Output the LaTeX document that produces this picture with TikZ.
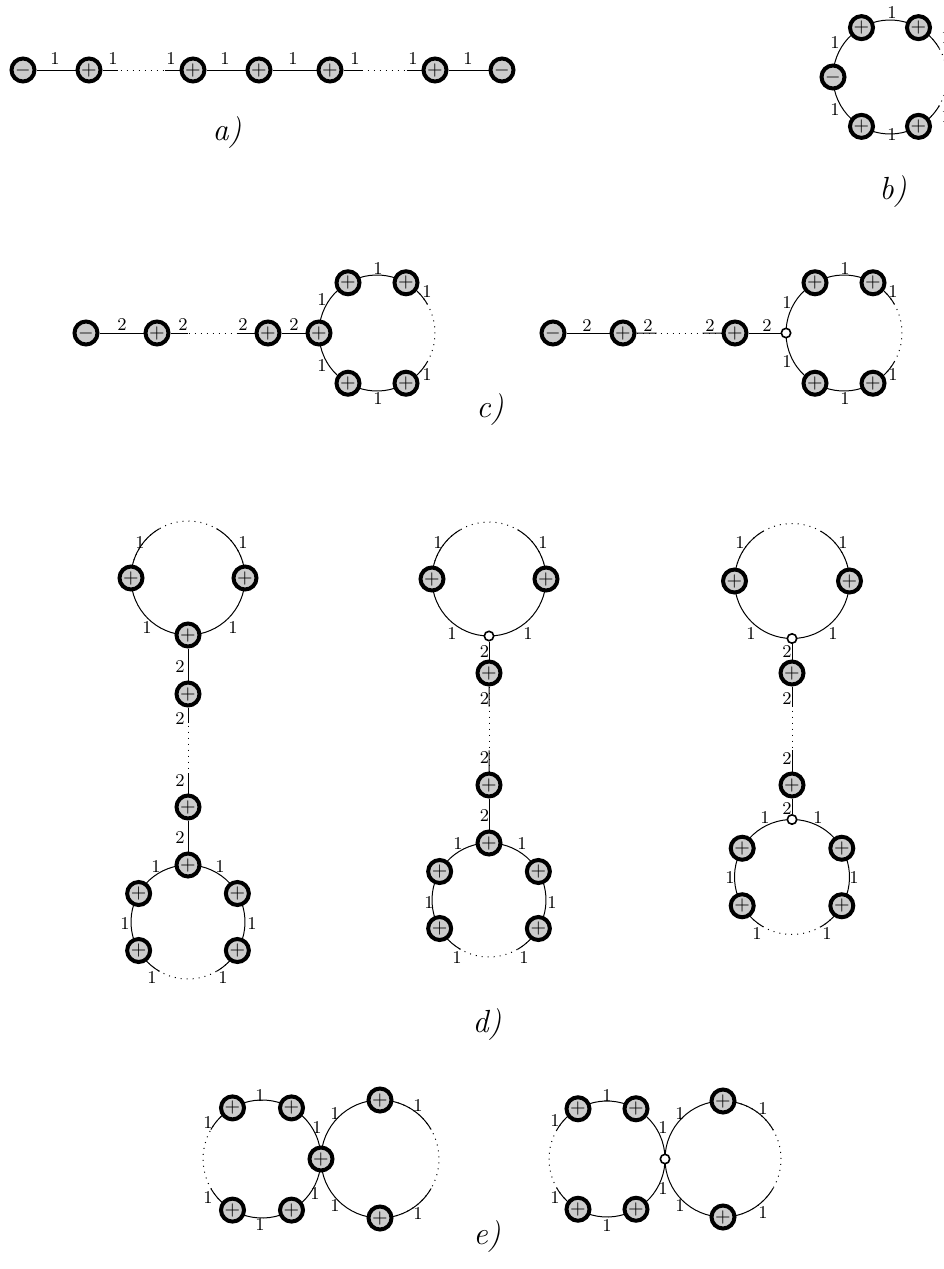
\documentclass[tikz,border=0pt]{standalone}
\usetikzlibrary{calc, backgrounds}

\begin{document}
\begin{tikzpicture}[
    x=0.5pt, y=-0.5pt,
    charge/.style={circle, draw=black, line width=2pt, fill=gray!40, minimum size=11.5pt, inner sep=0pt, font=\normalsize},
    hole/.style={circle, draw=black, line width=0.8pt, fill=white, minimum size=4.7pt, inner sep=0pt},
    wt/.style={font=\small, inner sep=0pt},
    caption/.style={font=\fontsize{16}{19}\selectfont\itshape, inner sep=0pt},
    bond/.style={line width=0.5pt},
    gap/.style={line width=0.5pt, dash pattern=on 0.5pt off 2.5pt}
]
\useasboundingbox (0,0) rectangle (943,1269);
\clip (0,0) rectangle (943,1269);

% a) open chain
\node[charge] (a1) at (23,70) {$-$};
\node[charge] (a2) at (89,70) {$+$};
\node[charge] (a3) at (193,70) {$+$};
\node[charge] (a4) at (259,70) {$+$};
\node[charge] (a5) at (330,70) {$+$};
\node[charge] (a6) at (435,70) {$+$};
\node[charge] (a7) at (502,70) {$-$};
\foreach \x [count=\i] in {55,113,171,225,293,355,413,468}
    \node[wt] (wa\i) at (\x,59) {1};
\node[caption] (capa) at (227,133) {a)};

% b) ring with one minus
\coordinate (bc) at (890,77);
\node[charge] (b1) at ($(bc)+(180:57)$) {$-$};
\node[charge] (b2) at ($(bc)+(240:57)$) {$+$};
\node[charge] (b3) at ($(bc)+(300:57)$) {$+$};
\node[charge] (b4) at ($(bc)+(60:57)$) {$+$};
\node[charge] (b5) at ($(bc)+(120:57)$) {$+$};
\foreach \x/\y [count=\i] in {892/13, 835/43, 835/110, 892/135, 946/38, 946/117}
    \node[wt] (wb\i) at (\x,\y) {1};
\node[caption] (capb) at (893,192) {b)};

% c) chain ending on a ring
\node[charge] (c1) at (86,333) {$-$};
\node[charge] (c2) at (157,333) {$+$};
\node[charge] (c3) at (268,333) {$+$};
\coordinate (cr) at (377,333);
\node[charge] (c4) at ($(cr)+(180:58)$) {$+$};
\node[charge] (c5) at ($(cr)+(240:58)$) {$+$};
\node[charge] (c6) at ($(cr)+(300:58)$) {$+$};
\node[charge] (c7) at ($(cr)+(60:58)$) {$+$};
\node[charge] (c8) at ($(cr)+(120:58)$) {$+$};
\foreach \x [count=\i] in {122,183,243,294}
    \node[wt] (wc\i) at (\x,325) {2};
\foreach \x/\y [count=\i] in {378/269, 427/292, 322/300, 322/366, 378/399, 427/375}
    \node[wt] (wr\i) at (\x,\y) {1};

\node[charge] (c9) at (553,333) {$-$};
\node[charge] (c10) at (623,333) {$+$};
\node[charge] (c11) at (735,333) {$+$};
\coordinate (cs) at (844,333);
\node[hole] (c12) at ($(cs)+(180:58)$) {};
\node[charge] (c13) at ($(cs)+(240:58)$) {$+$};
\node[charge] (c14) at ($(cs)+(300:58)$) {$+$};
\node[charge] (c15) at ($(cs)+(60:58)$) {$+$};
\node[charge] (c16) at ($(cs)+(120:58)$) {$+$};
\foreach \x [count=\i] in {587,648,710,767}
    \node[wt] (wcc\i) at (\x,326) {2};
\foreach \x/\y [count=\i] in {845/269, 893/292, 787/303, 787/362, 845/399, 893/375}
    \node[wt] (wrr\i) at (\x,\y) {1};
\node[caption] (capc) at (490,410) {c)};

% d) two rings joined by a chain
\coordinate (dt1) at (188,578);
\node[charge] (d1) at ($(dt1)+(180:57)$) {$+$};
\node[charge] (d2) at ($(dt1)+(0:57)$) {$+$};
\node[charge] (d3) at ($(dt1)+(90:57)$) {$+$};
\node[charge] (d4) at (188,694) {$+$};
\node[charge] (d5) at (188,807) {$+$};
\coordinate (db1) at (188,922);
\node[charge] (d6) at ($(db1)+(270:57)$) {$+$};
\node[charge] (d7) at ($(db1)+(210:57)$) {$+$};
\node[charge] (d8) at ($(db1)+(330:57)$) {$+$};
\node[charge] (d9) at ($(db1)+(150:57)$) {$+$};
\node[charge] (d10) at ($(db1)+(30:57)$) {$+$};
\foreach \x/\y [count=\i] in {140/542, 243/542, 147/627, 233/627, 156/866, 220/866, 125/923, 252/923, 152/977, 223/977}
    \node[wt] (wd\i) at (\x,\y) {1};
\foreach \y [count=\i] in {666,718,780,837}
    \node[wt] (ws\i) at (180,\y) {2};

\coordinate (dt2) at (489,579);
\node[charge] (d11) at ($(dt2)+(180:57)$) {$+$};
\node[charge] (d12) at ($(dt2)+(0:57)$) {$+$};
\node[hole] (d13) at ($(dt2)+(90:57)$) {};
\node[charge] (d14) at (489,673) {$+$};
\node[charge] (d15) at (489,785) {$+$};
\coordinate (db2) at (489,900);
\node[charge] (d16) at ($(db2)+(270:57)$) {$+$};
\node[charge] (d17) at ($(db2)+(210:57)$) {$+$};
\node[charge] (d18) at ($(db2)+(330:57)$) {$+$};
\node[charge] (d19) at ($(db2)+(150:57)$) {$+$};
\node[charge] (d20) at ($(db2)+(30:57)$) {$+$};
\foreach \x/\y [count=\i] in {438/542, 543/542, 452/633, 528/633, 458/843, 522/843, 429/902, 552/902, 457/957, 524/957}
    \node[wt] (wdd\i) at (\x,\y) {1};
\foreach \y [count=\i] in {651,698,757,815}
    \node[wt] (wss\i) at (484.5,\y) {2};

\coordinate (dt3) at (792,581);
\node[charge] (d21) at ($(dt3)+(180:57.5)$) {$+$};
\node[charge] (d22) at ($(dt3)+(0:57.5)$) {$+$};
\node[hole] (d23) at ($(dt3)+(90:57.5)$) {};
\node[charge] (d24) at (792,673) {$+$};
\node[charge] (d25) at (792,785) {$+$};
\coordinate (db3) at (792,877);
\node[hole] (d26) at ($(db3)+(270:57.5)$) {};
\node[charge] (d27) at ($(db3)+(210:57.5)$) {$+$};
\node[charge] (d28) at ($(db3)+(330:57.5)$) {$+$};
\node[charge] (d29) at ($(db3)+(150:57.5)$) {$+$};
\node[charge] (d30) at ($(db3)+(30:57.5)$) {$+$};
\foreach \x/\y [count=\i] in {740/542, 843/542, 751/633, 833/633, 765/817, 818/817, 730/877, 854/877, 757/933, 827/933}
    \node[wt] (wddd\i) at (\x,\y) {1};
\foreach \y [count=\i] in {651,698,758,808}
    \node[wt] (wsss\i) at (787,\y) {2};
\node[caption] (capd) at (487,1025) {d)};

% e) two rings sharing a site
\coordinate (el) at (262,1159);
\node[charge] (e1) at ($(el)+(240:59)$) {$+$};
\node[charge] (e2) at ($(el)+(300:59)$) {$+$};
\node[charge] (e3) at ($(el)+(0:59)$) {$+$};
\node[charge] (e4) at ($(el)+(60:59)$) {$+$};
\node[charge] (e5) at ($(el)+(120:59)$) {$+$};
\coordinate (er) at (380,1159);
\node[charge] (e6) at ($(er)+(270:59)$) {$+$};
\node[charge] (e7) at ($(er)+(90:59)$) {$+$};
\foreach \x/\y [count=\i] in {260/1095, 208/1122, 317/1127, 335/1113, 418/1105, 208/1197, 315/1193, 335/1205, 260/1224, 418/1213}
    \node[wt] (we\i) at (\x,\y) {1};

\coordinate (em) at (607,1159);
\node[charge] (e8) at ($(em)+(240:58)$) {$+$};
\node[charge] (e9) at ($(em)+(300:58)$) {$+$};
\node[hole] (e10) at ($(em)+(0:58)$) {};
\node[charge] (e11) at ($(em)+(60:58)$) {$+$};
\node[charge] (e12) at ($(em)+(120:58)$) {$+$};
\coordinate (en) at (723,1159);
\node[charge] (e13) at ($(en)+(270:58)$) {$+$};
\node[charge] (e14) at ($(en)+(90:58)$) {$+$};
\foreach \x/\y [count=\i] in {607/1095, 555/1120, 663/1127, 680/1113, 763/1108, 555/1197, 663/1188, 680/1205, 607/1225, 763/1212}
    \node[wt] (wee\i) at (\x,\y) {1};
\node[caption] (cape) at (487,1237) {e)};

% Bonds
\begin{scope}[on background layer]
% a)
\draw[bond] (a1) -- (a2) (a3) -- (a4) -- (a5) (a6) -- (a7);
\draw[gap] (a2) -- (a3) (a5) -- (a6);
\draw[bond] (a2) -- ($(a2)!.28!(a3)$) ($(a2)!.73!(a3)$) -- (a3);
\draw[bond] (a5) -- ($(a5)!.3!(a6)$) ($(a5)!.73!(a6)$) -- (a6);
% b)
\draw[bond] (b4.center) arc[start angle=60, end angle=330, radius=57];
\draw[bond] (b4.center) arc[start angle=60, end angle=30, radius=57];
\draw[gap] (b3.center) arc[start angle=300, end angle=420, radius=57];
% c)
\draw[bond] (c1) -- (c2) (c3) -- (c4);
\draw[gap] (c2) -- (c3);
\draw[bond] (c2) -- ($(c2)!.28!(c3)$) ($(c2)!.72!(c3)$) -- (c3);
\draw[bond] (c7.center) arc[start angle=60, end angle=330, radius=58];
\draw[bond] (c7.center) arc[start angle=60, end angle=30, radius=58];
\draw[gap] (c6.center) arc[start angle=300, end angle=420, radius=58];
\draw[bond] (c9) -- (c10) (c11) -- (c12);
\draw[gap] (c10) -- (c11);
\draw[bond] (c10) -- ($(c10)!.3!(c11)$) ($(c10)!.71!(c11)$) -- (c11);
\draw[bond] (c15.center) arc[start angle=60, end angle=330, radius=58];
\draw[bond] (c15.center) arc[start angle=60, end angle=30, radius=58];
\draw[gap] (c14.center) arc[start angle=300, end angle=420, radius=58];
% d)
\draw[bond] (d2.center) arc[start angle=0, end angle=240, radius=57];
\draw[bond] (d2.center) arc[start angle=360, end angle=300, radius=57];
\draw[gap] (d1.center) arc[start angle=180, end angle=360, radius=57];
\draw[bond] (d3) -- (d4) (d5) -- (d6);
\draw[gap] (d4) -- (d5);
\draw[bond] (d4) -- ($(d4)!.26!(d5)$) ($(d4)!.7!(d5)$) -- (d5);
\draw[bond] (d10.center) arc[start angle=30, end angle=-240, radius=57];
\draw[bond] (d10.center) arc[start angle=30, end angle=60, radius=57];
\draw[gap] (d10.center) arc[start angle=30, end angle=150, radius=57];

\draw[bond] (d12.center) arc[start angle=0, end angle=240, radius=57];
\draw[bond] (d12.center) arc[start angle=360, end angle=300, radius=57];
\draw[gap] (d11.center) arc[start angle=180, end angle=360, radius=57];
\draw[bond] (d13) -- (d14) (d15) -- (d16);
\draw[gap] (d14) -- (d15);
\draw[bond] (d14) -- ($(d14)!.3!(d15)$) ($(d14)!.69!(d15)$) -- (d15);
\draw[bond] (d20.center) arc[start angle=30, end angle=-240, radius=57];
\draw[bond] (d20.center) arc[start angle=30, end angle=60, radius=57];
\draw[gap] (d20.center) arc[start angle=30, end angle=150, radius=57];

\draw[bond] (d22.center) arc[start angle=0, end angle=240, radius=57.5];
\draw[bond] (d22.center) arc[start angle=360, end angle=300, radius=57.5];
\draw[gap] (d21.center) arc[start angle=180, end angle=360, radius=57.5];
\draw[bond] (d23) -- (d24) (d25) -- (d26);
\draw[gap] (d24) -- (d25);
\draw[bond] (d24) -- ($(d24)!.3!(d25)$) ($(d24)!.69!(d25)$) -- (d25);
\draw[bond] (d30.center) arc[start angle=30, end angle=-240, radius=57.5];
\draw[bond] (d30.center) arc[start angle=30, end angle=60, radius=57.5];
\draw[gap] (d30.center) arc[start angle=30, end angle=150, radius=57.5];
% e)
\draw[bond] (e1.center) arc[start angle=240, end angle=510, radius=59];
\draw[bond] (e1.center) arc[start angle=240, end angle=210, radius=59];
\draw[gap] (e5.center) arc[start angle=120, end angle=240, radius=59];
\draw[bond] (e6.center) arc[start angle=270, end angle=30, radius=59];
\draw[bond] (e6.center) arc[start angle=270, end angle=330, radius=59];
\draw[gap] (e6.center) arc[start angle=270, end angle=450, radius=59];

\draw[bond] (e8.center) arc[start angle=240, end angle=510, radius=58];
\draw[bond] (e8.center) arc[start angle=240, end angle=210, radius=58];
\draw[gap] (e12.center) arc[start angle=120, end angle=240, radius=58];
\draw[bond] (e13.center) arc[start angle=270, end angle=30, radius=58];
\draw[bond] (e13.center) arc[start angle=270, end angle=330, radius=58];
\draw[gap] (e13.center) arc[start angle=270, end angle=450, radius=58];
\end{scope}

\end{tikzpicture}
\end{document}
